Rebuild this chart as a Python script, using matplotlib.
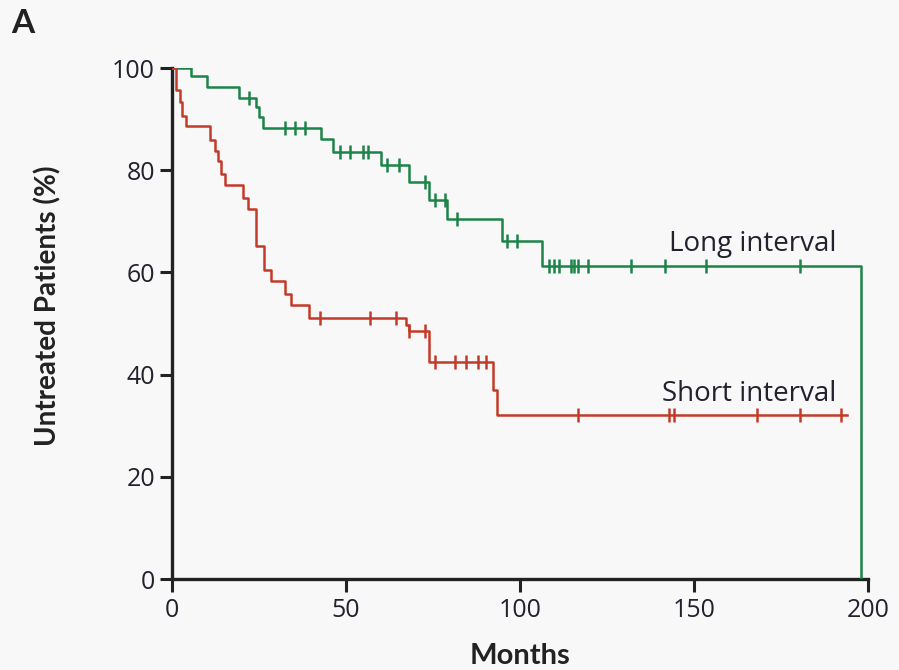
import numpy as np
import matplotlib
matplotlib.use("Agg")
import matplotlib.pyplot as plt

# Kaplan-Meier style step data (months, % untreated)
long_times = [0, 5.4, 10.1, 19.2, 24.3, 25.0, 26.2, 42.8, 46.3, 60.2, 68.1, 73.8, 79.0, 94.8, 106.4, 198.0]
long_surv = [100, 98.4, 96.3, 94.2, 92.4, 90.5, 88.3, 86.2, 83.5, 81.0, 77.6, 74.2, 70.4, 66.1, 61.3, 0]
long_censor = [22.1, 32.4, 35.3, 38.2, 48.2, 51.3, 54.9, 56.3, 61.8, 65.2, 72.7, 75.6, 78.4, 81.9,
               96.2, 99.1, 108.5, 109.9, 111.3, 114.7, 115.6, 116.6, 119.7, 131.9, 141.7, 153.4, 180.5]

short_times = [0, 1.3, 2.4, 2.9, 4.2, 11.1, 12.5, 13.3, 14.1, 15.4, 20.5, 21.9, 24.3, 26.4, 28.4,
               32.4, 34.4, 39.5, 67.3, 68.1, 74.0, 92.4, 93.3, 194.0]
short_surv = [100, 95.7, 93.4, 90.7, 88.6, 86.0, 83.8, 81.8, 79.3, 77.1, 74.5, 72.4, 65.2, 60.5, 58.3,
              55.7, 53.6, 51.1, 49.8, 48.5, 42.5, 37.0, 32.0, 32.0]
short_censor = [42.7, 57.1, 64.5, 68.1, 72.7, 75.5, 81.4, 84.4, 88.1, 90.2,
                116.6, 142.9, 144.3, 168.0, 180.5, 192.2]

xticks = [0, 50, 100, 150, 200]
yticks = [0, 20, 40, 60, 80, 100]

GREEN = "#1b8449"
RED = "#c23b2a"
BG = "#f8f8f8"
INK = "#22222e"
BODY = ["Open Sans", "DejaVu Sans"]
BOLD = ["Lato", "DejaVu Sans"]


def level_at(times, surv, t):
    # value of the step function just at censoring time t
    i = np.searchsorted(times, t, side="right") - 1
    return np.asarray(surv)[i]


fig = plt.figure(figsize=(8.99, 6.70), dpi=100, facecolor=BG)
ax = fig.add_axes([0.191, 0.1358, 0.7745, 0.7627], facecolor=BG)

for times, surv, cens, col in [(long_times, long_surv, long_censor, GREEN),
                               (short_times, short_surv, short_censor, RED)]:
    ax.step(times, surv, where="post", color=col, lw=1.8, zorder=3)
    cy = [level_at(times, surv, t) for t in cens]
    ax.plot(cens, cy, ls="none", marker="|", ms=10, mew=1.8, color=col, zorder=3)

ax.text(191, 65.6, "Long interval", ha="right", va="center", fontsize=20, color=INK, family=BODY)
ax.text(191, 36.2, "Short interval", ha="right", va="center", fontsize=20, color=INK, family=BODY)

ax.set_xlim(0, 200)
ax.set_ylim(0, 100)
ax.set_xticks(xticks)
ax.set_yticks(yticks)
for s in ["top", "right"]:
    ax.spines[s].set_visible(False)
for s in ["left", "bottom"]:
    ax.spines[s].set_linewidth(2.4)
    ax.spines[s].set_color("#222222")
ax.tick_params(axis="both", direction="out", length=9, width=2.2, color="#222222",
               labelsize=18, labelcolor=INK)
ax.tick_params(axis="y", pad=3)
ax.tick_params(axis="x", pad=5)
for lab in ax.get_xticklabels() + ax.get_yticklabels():
    lab.set_family(BODY)

ax.set_xlabel("Months", fontsize=21, fontweight="bold", family=BOLD, color="#222222")
ax.set_ylabel("Untreated Patients (%)", fontsize=20, fontweight="bold", family=BOLD, color="#222222")
ax.xaxis.set_label_coords(0.5, -0.125)
ax.yaxis.set_label_coords(-0.158, 0.535)

fig.text(0.013, 0.986, "A", fontsize=24, fontweight="bold", family=BOLD, color="#222222",
         ha="left", va="top")

fig.savefig("out.png", dpi=100, facecolor=BG)
